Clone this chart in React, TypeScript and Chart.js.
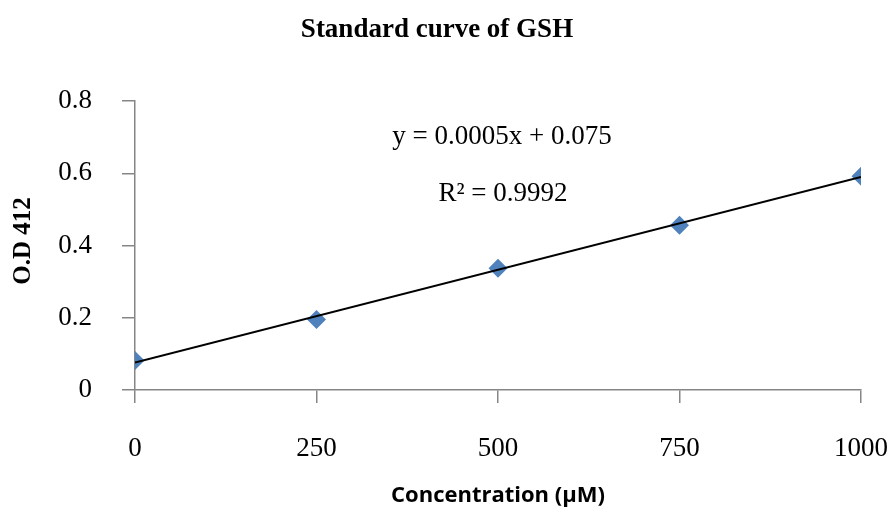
import React, { useEffect, useRef } from "react";
import { Chart, registerables } from "chart.js";

Chart.register(...registerables);

const concentrations = [0, 250, 500, 750, 1000];
const odValues = [0.082, 0.195, 0.337, 0.456, 0.592];
const trendX = [0, 1000];
const trendY = [0.076, 0.590];
const titleText = "Standard curve of GSH";
const xTitle = "Concentration (µM)";
const yTitle = "O.D 412";
const equationText = "y = 0.0005x + 0.075";
const r2Text = "R² = 0.9992";

const W = 891;
const H = 513;

const textPlugin = {
  id: "textPlugin",
  afterDraw(chart: any) {
    const ctx = chart.ctx;
    ctx.save();
    ctx.fillStyle = "#000";
    ctx.textAlign = "center";
    ctx.textBaseline = "middle";
    ctx.font = "bold 27px 'Liberation Serif'";
    ctx.fillText(titleText, 437, 30);
    ctx.font = "27px 'Liberation Serif'";
    ctx.fillText(equationText, 502, 137);
    ctx.fillText(r2Text, 503, 194);
    ctx.font = "bold 22px 'Open Sans'";
    ctx.fillText(xTitle, 498, 496);
    ctx.translate(24, 241);
    ctx.rotate(-Math.PI / 2);
    ctx.font = "bold 25px 'Liberation Serif'";
    ctx.fillText(yTitle, 0, 0);
    ctx.restore();
  },
};

export default function App() {
  const ref = useRef<HTMLCanvasElement | null>(null);
  useEffect(() => {
    document.body.style.margin = "0";
    const canvas = ref.current!;
    const axisColor = "#868686";
    const tickFont = { family: "'Liberation Serif'", size: 27 };
    const chart = new Chart(canvas, {
      type: "scatter",
      data: {
        datasets: [
          {
            type: "line",
            label: "trend",
            data: trendX.map((x, i) => ({ x, y: trendY[i] })),
            borderColor: "#000",
            borderWidth: 2,
            pointRadius: 0,
            fill: false,
          } as any,
          {
            label: "OD",
            data: concentrations.map((x, i) => ({ x, y: odValues[i] })),
            pointStyle: "rectRot",
            pointRadius: 9.5,
            backgroundColor: "#4F81BD",
            borderColor: "#4F81BD",
            borderWidth: 0,
          },
        ],
      },
      options: {
        responsive: false,
        animation: false,
        devicePixelRatio: 1,
        layout: { padding: { left: 0, right: 30, top: 101, bottom: 0 } },
        plugins: { legend: { display: false }, tooltip: { enabled: false }, title: { display: false } },
        scales: {
          x: {
            type: "linear",
            min: 0,
            max: 1000,
            ticks: { stepSize: 250, padding: 30, color: "#000", font: tickFont, maxRotation: 0, callback: (v: any) => String(v) },
            grid: { drawOnChartArea: false, drawTicks: true, tickLength: 13, color: axisColor, lineWidth: 1.5 },
            border: { display: true, color: axisColor, width: 1.5 },
            afterFit: (s: any) => { s.height = H - 390; s.paddingLeft = 0; s.paddingRight = 0; },
          },
          y: {
            type: "linear",
            min: 0,
            max: 0.8,
            ticks: { stepSize: 0.2, padding: 30, color: "#000", font: tickFont, callback: (v: any) => String(Math.round(v * 10) / 10) },
            grid: { drawOnChartArea: false, drawTicks: true, tickLength: 13, color: axisColor, lineWidth: 1.5 },
            border: { display: true, color: axisColor, width: 1.5 },
            afterFit: (s: any) => { s.width = 135; s.paddingTop = 0; s.paddingBottom = 0; },
          },
        },
      } as any,
      plugins: [textPlugin],
    });
    return () => chart.destroy();
  }, []);
  return <canvas ref={ref} width={W} height={H} style={{ display: "block", width: W, height: H }} />;
}
